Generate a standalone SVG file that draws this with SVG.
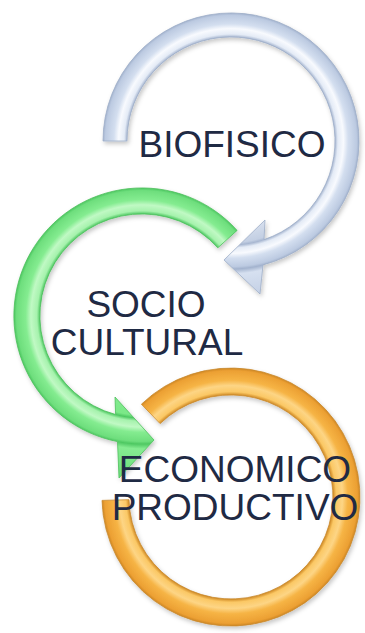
<svg xmlns="http://www.w3.org/2000/svg" width="365" height="633" viewBox="0 0 365 633">
<defs>
<style>
.lbl{font-family:"Liberation Sans",Arial,sans-serif;font-size:37px;fill:#1f2a44;text-anchor:middle}
.arr{filter:url(#sh);stroke-width:0.8;stroke-linejoin:round}
</style>
<filter id="sh" x="-10%" y="-10%" width="125%" height="125%">
<feDropShadow dx="1.5" dy="2.5" stdDeviation="2" flood-color="#000" flood-opacity="0.22"/>
</filter>
<radialGradient id="gBlue" gradientUnits="userSpaceOnUse" cx="231" cy="141" r="160">
<stop offset="0.5" stop-color="#dfe6f2"/>
<stop offset="0.635" stop-color="#c3cfe3"/>
<stop offset="0.65" stop-color="#a8b7d1"/>
<stop offset="0.668" stop-color="#e4ebf6"/>
<stop offset="0.7025" stop-color="#f8fafe"/>
<stop offset="0.7325" stop-color="#d3deef"/>
<stop offset="0.785" stop-color="#bccae1"/>
<stop offset="0.80" stop-color="#a3b3ce"/>
<stop offset="0.83" stop-color="#d6e0f0"/>
<stop offset="1" stop-color="#c0cde3"/>
</radialGradient>
<radialGradient id="gGreen" gradientUnits="userSpaceOnUse" cx="142" cy="316" r="160">
<stop offset="0.5" stop-color="#86ec92"/>
<stop offset="0.62" stop-color="#7ae887"/>
<stop offset="0.6375" stop-color="#4ec862"/>
<stop offset="0.657" stop-color="#a6f2ad"/>
<stop offset="0.6944" stop-color="#c0f9c4"/>
<stop offset="0.7269" stop-color="#84ec90"/>
<stop offset="0.7838" stop-color="#6ede7d"/>
<stop offset="0.80" stop-color="#4ec862"/>
<stop offset="0.83" stop-color="#86ec92"/>
<stop offset="1" stop-color="#6cdc7b"/>
</radialGradient>
<radialGradient id="gOrange" gradientUnits="userSpaceOnUse" cx="231" cy="497" r="160">
<stop offset="0.6375" stop-color="#d08a25"/>
<stop offset="0.6577" stop-color="#fbc865"/>
<stop offset="0.6965" stop-color="#fdd585"/>
<stop offset="0.7302" stop-color="#f6b445"/>
<stop offset="0.7892" stop-color="#eca033"/>
<stop offset="0.806" stop-color="#cf8724"/>
<stop offset="1" stop-color="#cf8724"/>
</radialGradient>
</defs>
<g id="connectors">
<path id="arrow-economico" class="arr" fill="url(#gOrange)" stroke="#c98a2e" d="M141.4,404.2 A129,129 0 1 1 102,500.4 L129,499.7 A102,102 0 1 0 160.1,423.6 Z"/>
<path id="arrow-sociocultural" class="arr" fill="url(#gGreen)" stroke="#4cbf5c" d="M237.1,230.4 A128,128 0 1 0 117.5,441.6 L119,478 L154,440 L115,397 L115.6,414.5 A102,102 0 1 1 217.8,247.8 Z"/>
<path id="arrow-biofisico" class="arr" fill="url(#gBlue)" stroke="#9dadc8" d="M103,141 A128,128 0 1 1 263,264.9 L260,294 L224,260 L265,220 L264,239.6 A104,104 0 1 0 127,141 Z"/>
</g>
<g id="node-biofisico"><text class="lbl" x="232" y="157">BIOFISICO</text></g>
<g id="node-sociocultural"><text class="lbl" x="146" y="317">SOCIO</text><text class="lbl" x="147" y="355">CULTURAL</text></g>
<g id="node-economico"><text class="lbl" x="235" y="482">ECONOMICO</text><text class="lbl" x="235" y="520">PRODUCTIVO</text></g>
</svg>
